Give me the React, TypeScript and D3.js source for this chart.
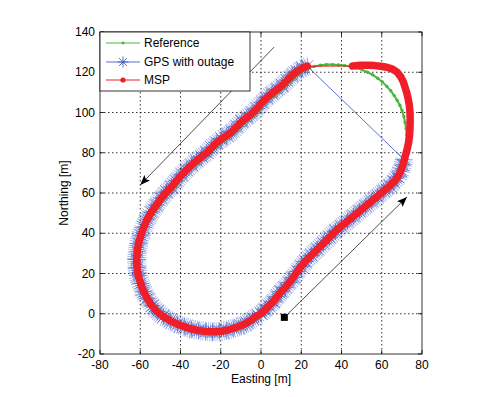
import React from "react";
import * as d3 from "d3";

// axis ticks
const xTicks = [-80, -60, -40, -20, 0, 20, 40, 60, 80];
const yTicks = [-20, 0, 20, 40, 60, 80, 100, 120, 140];

// GPS before the outage (heading north-east)
const gpsBeforeE = [0, 2, 4, 6, 8, 10, 12, 14, 16, 18, 20, 22, 25, 28, 31, 34, 37, 40, 43, 46, 49, 52, 55, 58, 61, 64, 66, 68, 69.5, 70.5, 71.2];
const gpsBeforeN = [0, 2, 4, 6, 8.5, 11, 13, 15.5, 18, 21, 23.5, 26, 29, 32, 35, 38, 41, 43.5, 46, 48.5, 51, 53.5, 56, 58.5, 61, 63.5, 65.5, 68, 71, 74, 76.5];

// GPS after the outage (heading south-west, then round the loop)
const gpsAfterE = [23, 20.5, 18, 15.5, 13, 10.5, 8, 5.5, 3, 0.5, -2, -4.5, -7, -9.5, -12, -14.5, -17, -19.5, -22, -24.5, -27, -29.5, -32, -34.5, -37, -39.5, -42, -44.5, -47, -49.5, -52, -54.5, -56.5, -58.3, -59.7, -60.8, -61.5, -61.8, -61.6, -61, -59.8, -58.3, -56.5, -54.2, -51.5, -48.5, -45, -41.5, -38, -34.5, -31, -27.5, -24, -20.5, -17, -13.5, -10, -7, -4, -1.5];
const gpsAfterN = [123, 122, 120.5, 118.5, 116, 113.5, 111.5, 109.5, 107.5, 105, 102, 99.5, 97.5, 95.5, 93, 90.5, 88.5, 87, 85, 82.5, 80, 78, 76, 74, 71.5, 69, 66, 63, 60.5, 57.5, 54, 50.5, 47, 43, 39, 35, 31, 27, 23, 19, 15, 11, 7.5, 4, 1, -1.5, -3.5, -5.2, -6.5, -7.6, -8.3, -8.8, -9, -8.8, -8.2, -7.2, -6, -4.5, -2.5, -0.7];

// MSP solution during the outage
const mspOutageE = [72, 72.8, 73.4, 73.8, 74, 74.1, 74.1, 74, 73.7, 73.2, 72.5, 71.6, 70.6, 69.3, 67.5, 65, 62.5, 59.5, 56.5, 53.5, 50.5, 47.5, 45.5];
const mspOutageN = [79.5, 82.5, 85.5, 88.5, 91.5, 94.5, 97.5, 100.5, 103.5, 106.5, 109.5, 112.5, 115.5, 118, 120.2, 121.7, 122.5, 123, 123.3, 123.5, 123.5, 123.3, 123.1];

// reference trajectory
const refE = [
  0.5, 2.5, 4.5, 6.5, 8.5, 10.5, 12.5, 14.5, 16.5, 18.5, 20.5, 22.5, 25.5, 28.5, 31.5, 34.5, 37.5, 40.5, 43.5, 46.5, 49.5, 52.5, 55.5, 58.5, 61.5, 64.5, 66.5, 68.5, 70, 71,
  71.6, 72, 72.3, 72.4, 72.4, 72.1, 71.6, 71, 70.1, 69, 67.7, 66.2, 64.5, 62.5, 60.3, 58, 55.5, 53, 50.3, 47.5, 44.5, 41.5, 38.5, 35.5, 32.5, 29.5, 26.5, 24,
  21.5, 19, 16.5, 14, 11.5, 9, 6.5, 4, 1.5, -1, -3.5, -6, -8.5, -11, -13.5, -16, -18.5, -21, -23.5, -26, -28.5, -31, -33.5, -36, -38.5, -41, -43.5, -46, -48.5, -51, -53.5, -55.8, -57.7, -59.2, -60.4, -61.2, -61.5, -61.3, -60.7, -59.5, -58, -56, -53.6, -50.8, -47.8, -44.4, -41, -37.5, -34, -30.5, -27, -23.5, -20, -16.5, -13, -9.5, -6.5, -3.5, -1,
];
const refN = [
  -0.8, 1.2, 3.3, 5.3, 7.6, 10, 12.2, 14.6, 17, 19.8, 22.5, 25, 28, 31, 34, 37, 40, 42.6, 45, 47.6, 50, 52.6, 55, 57.6, 60, 62.6, 64.6, 67.2, 70.2, 73.5,
  77, 80, 83, 86, 89, 92, 95, 98, 101, 103.6, 106, 108.4, 110.8, 113, 115.2, 117, 118.7, 120, 121.2, 122.1, 122.8, 123.3, 123.6, 123.8, 123.8, 123.5, 122.9, 122.2,
  121, 119.3, 117.3, 115, 112.5, 110.3, 108.3, 106.3, 104, 101, 98.5, 96.5, 94.5, 92, 89.5, 87.4, 85.8, 84, 81.5, 79, 77, 75, 73, 70.5, 68, 65, 62, 59.5, 56.5, 53, 49.5, 46, 42, 38, 34, 30, 26, 22, 18, 14, 10, 6.3, 3, 0, -2.6, -4.6, -6.3, -7.6, -8.7, -9.4, -9.9, -10.1, -9.9, -9.2, -8.2, -7, -5.5, -3.5, -1.7,
];

// annotations: direction arrows [x1, y1, x2, y2] and start marker
const arrows = [
  [6.5, 132.5, -60, 64],
  [13.4, 0, 72.5, 58],
];
const startMark = [11.6, -1.8];

const gpsE = [...gpsBeforeE, ...gpsAfterE];
const gpsN = [...gpsBeforeN, ...gpsAfterN];
const mspE = [...gpsBeforeE, ...mspOutageE, ...gpsAfterE];
const mspN = [...gpsBeforeN, ...mspOutageN, ...gpsAfterN];

const font = "Arial, 'Liberation Sans', sans-serif";
const GREEN = "#46b83c";
const BLUE = "#2f4fc0";
const RED = "#f01e28";

function star(cx: number, cy: number, h: number) {
  const d = h * 0.72;
  return `M${cx - h},${cy}H${cx + h}M${cx},${cy - h}V${cy + h}M${cx - d},${cy - d}L${cx + d},${cy + d}M${cx - d},${cy + d}L${cx + d},${cy - d}`;
}

export default function App() {
  const W = 504, H = 397;
  const left = 100, right = 422, top = 32, bottom = 354;
  const x = d3.scaleLinear().domain([-80, 80]).range([left, right]);
  const y = d3.scaleLinear().domain([-20, 140]).range([bottom, top]);

  const pathOf = (es: number[], ns: number[]) =>
    d3.line<number>().x((e) => x(e)).y((_, i) => y(ns[i]))(es) || "";

  // the original is sampled so densely its markers merge into a band; draw that band as a stroke
  const gpsBands = [pathOf(gpsBeforeE, gpsBeforeN), pathOf(gpsAfterE, gpsAfterN)];
  const mspBands = [
    pathOf([...gpsBeforeE, ...mspOutageE], [...gpsBeforeN, ...mspOutageN]),
    pathOf(gpsAfterE, gpsAfterN),
  ];

  const tickLen = 4;

  return (
    <svg width={W} height={H} style={{ position: "absolute", left: 0, top: 0, background: "#fff" }}>
      <defs>
        <marker id="ah" viewBox="0 0 10 8" refX="10" refY="4" markerWidth="10" markerHeight="8" markerUnits="userSpaceOnUse" orient="auto">
          <path d="M0,0L10,4L0,8L2,4Z" fill="#000" />
        </marker>
        <clipPath id="plotclip">
          <rect x={left} y={top} width={right - left} height={bottom - top} />
        </clipPath>
      </defs>

      <rect x={left} y={top} width={right - left} height={bottom - top} fill="#fff" />

      {/* grid */}
      <g stroke="#000" strokeWidth={0.8} strokeDasharray="1.5,2.5">
        {xTicks.slice(1, -1).map((t) => (
          <line key={"gx" + t} x1={x(t)} x2={x(t)} y1={top} y2={bottom} />
        ))}
        {yTicks.slice(1, -1).map((t) => (
          <line key={"gy" + t} x1={left} x2={right} y1={y(t)} y2={y(t)} />
        ))}
      </g>

      <g clipPath="url(#plotclip)">
        {/* GPS with outage */}
        {gpsBands.map((d, i) => (
          <g key={"gb" + i} fill="none" strokeLinejoin="round">
            <path d={d} stroke={BLUE} strokeWidth={19} strokeDasharray="0.7,1.4" opacity={0.5} />
            <path d={d} stroke={BLUE} strokeWidth={12} strokeDasharray="0.8,1" opacity={0.65} />
          </g>
        ))}
        <path d={pathOf(gpsE, gpsN)} fill="none" stroke={BLUE} strokeWidth={0.8} />
        <g stroke={BLUE} strokeWidth={0.7} opacity={0.8}>
          {gpsE.map((e, i) => (
            <path key={"s" + i} d={star(x(e), y(gpsN[i]), 8.5)} />
          ))}
        </g>

        {/* Reference */}
        <path d={pathOf(refE, refN)} fill="none" stroke={GREEN} strokeWidth={2} />
        <g fill={GREEN}>
          {refE.map((e, i) => (
            <circle key={"r" + i} cx={x(e)} cy={y(refN[i])} r={1.7} />
          ))}
        </g>

        {/* MSP */}
        <path d={pathOf(mspE, mspN)} fill="none" stroke={RED} strokeWidth={1} />
        {mspBands.map((d, i) => (
          <path key={"mb" + i} d={d} fill="none" stroke={RED} strokeWidth={7.5} strokeLinejoin="round" strokeLinecap="round" />
        ))}
      </g>

      {/* annotations */}
      {arrows.map((a, i) => (
        <line key={"a" + i} x1={x(a[0])} y1={y(a[1])} x2={x(a[2])} y2={y(a[3])} stroke="#222" strokeWidth={0.8} markerEnd="url(#ah)" />
      ))}
      <rect x={x(startMark[0]) - 3.5} y={y(startMark[1]) - 3.5} width={7} height={7} fill="#000" />

      {/* axes box and ticks */}
      <rect x={left} y={top} width={right - left} height={bottom - top} fill="none" stroke="#000" strokeWidth={0.8} />
      <g stroke="#000" strokeWidth={0.8}>
        {xTicks.map((t) => (
          <g key={"tx" + t}>
            <line x1={x(t)} x2={x(t)} y1={bottom} y2={bottom - tickLen} />
            <line x1={x(t)} x2={x(t)} y1={top} y2={top + tickLen} />
          </g>
        ))}
        {yTicks.map((t) => (
          <g key={"ty" + t}>
            <line x1={left} x2={left + tickLen} y1={y(t)} y2={y(t)} />
            <line x1={right} x2={right - tickLen} y1={y(t)} y2={y(t)} />
          </g>
        ))}
      </g>
      <g fontFamily={font} fontSize={12} fill="#000">
        {xTicks.map((t) => (
          <text key={"lx" + t} x={x(t)} y={bottom + 15} textAnchor="middle">{t}</text>
        ))}
        {yTicks.map((t) => (
          <text key={"ly" + t} x={left - 5} y={y(t) + 4} textAnchor="end">{t}</text>
        ))}
        <text x={(left + right) / 2} y={bottom + 29} textAnchor="middle">Easting [m]</text>
        <text transform={`translate(68,${(top + bottom) / 2}) rotate(-90)`} textAnchor="middle">Northing [m]</text>
      </g>

      {/* legend */}
      <g fontFamily={font} fontSize={12}>
        <rect x={left} y={top} width={150} height={59} fill="#fff" stroke="#000" strokeWidth={0.8} />
        <line x1={106} x2={140} y1={43} y2={43} stroke={GREEN} strokeWidth={1} />
        <circle cx={123} cy={43} r={1.4} fill={GREEN} />
        <text x={144} y={47}>Reference</text>
        <line x1={106} x2={140} y1={62} y2={62} stroke={BLUE} strokeWidth={0.8} />
        <path d={star(123, 62, 5.5)} stroke={BLUE} strokeWidth={0.8} />
        <text x={144} y={66}>GPS with outage</text>
        <line x1={106} x2={140} y1={80} y2={80} stroke={RED} strokeWidth={1} />
        <circle cx={123} cy={80} r={2.6} fill={RED} />
        <text x={144} y={84}>MSP</text>
      </g>
    </svg>
  );
}
